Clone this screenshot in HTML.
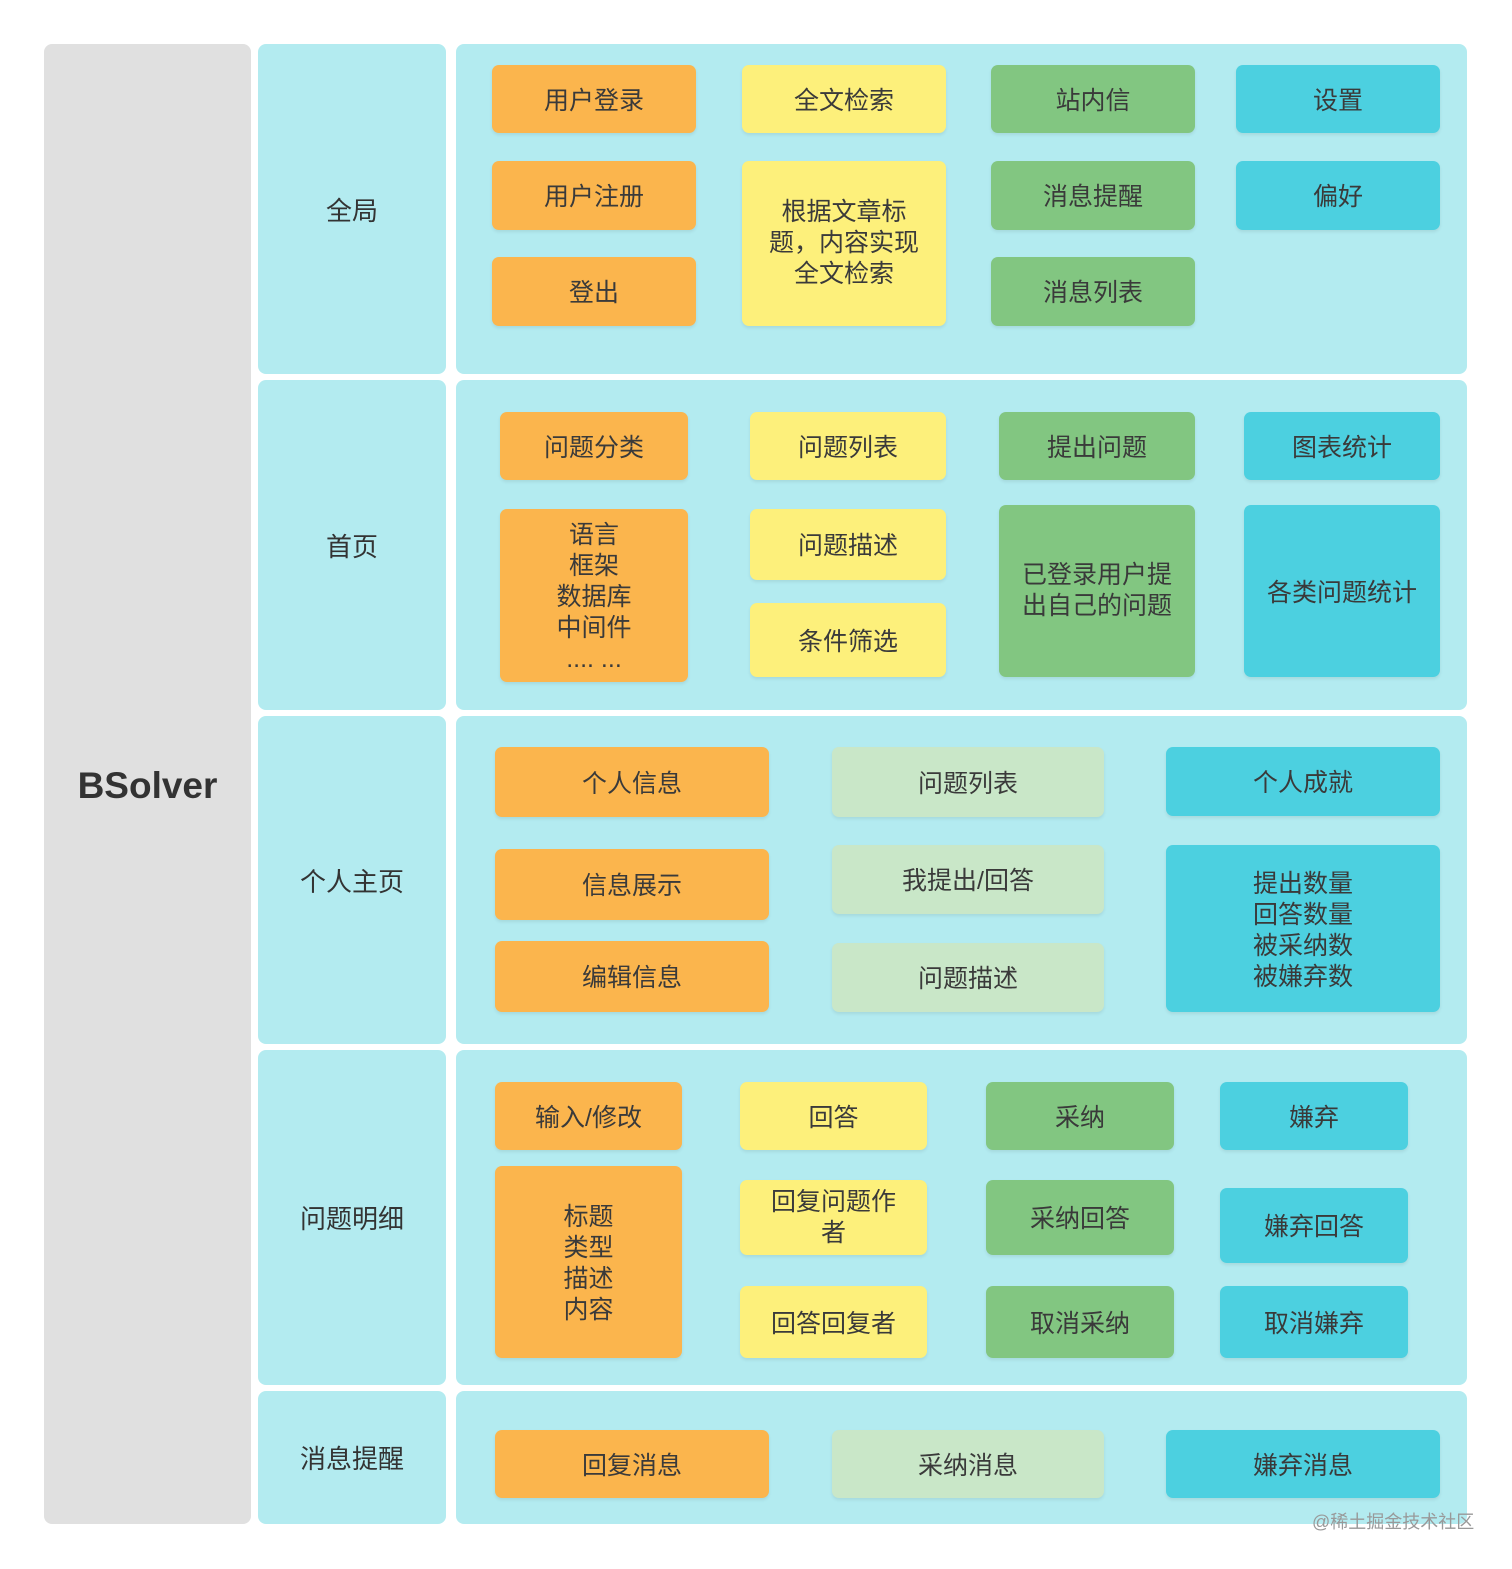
<!DOCTYPE html>
<html><head><meta charset="utf-8"><style>
body{margin:0;width:1512px;height:1569px;background:#fff;position:relative;overflow:hidden;font-family:"Liberation Sans","Noto Sans CJK SC",sans-serif;}
div{position:absolute;box-sizing:border-box;}
.bg{background:#b3ebf0;border-radius:8px;}
.b{display:flex;align-items:center;justify-content:center;text-align:center;font-size:25px;color:#3a3a3a;border-radius:7px;line-height:31px;box-shadow:0 2px 3px rgba(0,0,0,0.08);padding-top:5px;padding-bottom:1px;}
.o{background:#fbb54d;}.y{background:#fdf07b;}.g{background:#82c681;}.c{background:#4cd0e0;}.l{background:#c9e7c8;}
.lab{display:flex;align-items:center;justify-content:center;font-size:26px;color:#333;}
</style></head><body>
<div style="left:44px;top:44px;width:207px;height:1480px;background:#e0e0e0;border-radius:8px;"></div>
<div class="lab" style="left:44px;top:44px;width:207px;height:1480px;font-size:37px;font-weight:bold;color:#333;padding-top:4px;">BSolver</div>

<div class="bg lab" style="left:258px;top:44px;width:188px;height:330px;">全局</div>
<div class="bg lab" style="left:258px;top:380px;width:188px;height:330px;">首页</div>
<div class="bg lab" style="left:258px;top:716px;width:188px;height:328px;">个人主页</div>
<div class="bg lab" style="left:258px;top:1050px;width:188px;height:335px;">问题明细</div>
<div class="bg lab" style="left:258px;top:1391px;width:188px;height:133px;">消息提醒</div>

<div class="bg" style="left:456px;top:44px;width:1011px;height:330px;"></div>
<div class="bg" style="left:456px;top:380px;width:1011px;height:330px;"></div>
<div class="bg" style="left:456px;top:716px;width:1011px;height:328px;"></div>
<div class="bg" style="left:456px;top:1050px;width:1011px;height:335px;"></div>
<div class="bg" style="left:456px;top:1391px;width:1011px;height:133px;"></div>

<!-- row1 -->
<div class="b o" style="left:492px;top:65px;width:204px;height:68px;">用户登录</div>
<div class="b o" style="left:492px;top:161px;width:204px;height:69px;">用户注册</div>
<div class="b o" style="left:492px;top:257px;width:204px;height:69px;">登出</div>
<div class="b y" style="left:742px;top:65px;width:204px;height:68px;">全文检索</div>
<div class="b y" style="left:742px;top:161px;width:204px;height:165px;padding:0 16px;">根据文章标题，内容实现全文检索</div>
<div class="b g" style="left:991px;top:65px;width:204px;height:68px;">站内信</div>
<div class="b g" style="left:991px;top:161px;width:204px;height:69px;">消息提醒</div>
<div class="b g" style="left:991px;top:257px;width:204px;height:69px;">消息列表</div>
<div class="b c" style="left:1236px;top:65px;width:204px;height:68px;">设置</div>
<div class="b c" style="left:1236px;top:161px;width:204px;height:69px;">偏好</div>

<!-- row2 -->
<div class="b o" style="left:500px;top:412px;width:188px;height:68px;">问题分类</div>
<div class="b o" style="left:500px;top:509px;width:188px;height:173px;">语言<br>框架<br>数据库<br>中间件<br>.... ...</div>
<div class="b y" style="left:750px;top:412px;width:196px;height:68px;">问题列表</div>
<div class="b y" style="left:750px;top:509px;width:196px;height:71px;">问题描述</div>
<div class="b y" style="left:750px;top:603px;width:196px;height:74px;">条件筛选</div>
<div class="b g" style="left:999px;top:412px;width:196px;height:68px;">提出问题</div>
<div class="b g" style="left:999px;top:505px;width:196px;height:172px;padding:0 18px;">已登录用户提出自己的问题</div>
<div class="b c" style="left:1244px;top:412px;width:196px;height:68px;">图表统计</div>
<div class="b c" style="left:1244px;top:505px;width:196px;height:172px;">各类问题统计</div>

<!-- row3 -->
<div class="b o" style="left:495px;top:747px;width:274px;height:70px;">个人信息</div>
<div class="b o" style="left:495px;top:849px;width:274px;height:71px;">信息展示</div>
<div class="b o" style="left:495px;top:941px;width:274px;height:71px;">编辑信息</div>
<div class="b l" style="left:832px;top:747px;width:272px;height:70px;">问题列表</div>
<div class="b l" style="left:832px;top:845px;width:272px;height:69px;">我提出/回答</div>
<div class="b l" style="left:832px;top:943px;width:272px;height:69px;">问题描述</div>
<div class="b c" style="left:1166px;top:747px;width:274px;height:69px;">个人成就</div>
<div class="b c" style="left:1166px;top:845px;width:274px;height:167px;">提出数量<br>回答数量<br>被采纳数<br>被嫌弃数</div>

<!-- row4 -->
<div class="b o" style="left:495px;top:1082px;width:187px;height:68px;">输入/修改</div>
<div class="b o" style="left:495px;top:1166px;width:187px;height:192px;">标题<br>类型<br>描述<br>内容</div>
<div class="b y" style="left:740px;top:1082px;width:187px;height:68px;">回答</div>
<div class="b y" style="left:740px;top:1180px;width:187px;height:75px;padding:0 22px;">回复问题作者</div>
<div class="b y" style="left:740px;top:1286px;width:187px;height:72px;">回答回复者</div>
<div class="b g" style="left:986px;top:1082px;width:188px;height:68px;">采纳</div>
<div class="b g" style="left:986px;top:1180px;width:188px;height:75px;">采纳回答</div>
<div class="b g" style="left:986px;top:1286px;width:188px;height:72px;">取消采纳</div>
<div class="b c" style="left:1220px;top:1082px;width:188px;height:68px;">嫌弃</div>
<div class="b c" style="left:1220px;top:1188px;width:188px;height:75px;">嫌弃回答</div>
<div class="b c" style="left:1220px;top:1286px;width:188px;height:72px;">取消嫌弃</div>

<!-- row5 -->
<div class="b o" style="left:495px;top:1430px;width:274px;height:68px;">回复消息</div>
<div class="b l" style="left:832px;top:1430px;width:272px;height:68px;">采纳消息</div>
<div class="b c" style="left:1166px;top:1430px;width:274px;height:68px;">嫌弃消息</div>

<div style="left:1312px;top:1508px;font-size:18px;color:#999;white-space:nowrap;">@稀土掘金技术社区</div>
</body></html>
